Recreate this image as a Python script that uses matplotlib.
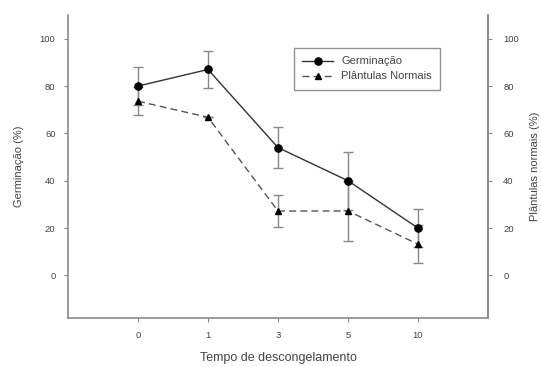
import matplotlib
matplotlib.use("Agg")
import matplotlib.pyplot as plt
from matplotlib.lines import Line2D
import numpy as np

plt.rcParams['font.family'] = ['Liberation Sans', 'DejaVu Sans']

categories = ["0", "1", "3", "5", "10"]
germinacao = [80, 87, 54, 40, 20]
germinacao_err = [8, 8, 8.5, 12.3, 8]
plantulas = [73.6, 66.8, 27.2, 27.2, 13.2]
plantulas_err = [6, 0, 6.7, 12.5, 8]
y_ticks = [0, 20, 40, 60, 80, 100]

fig = plt.figure(figsize=(5.41, 3.67), dpi=100)
ax = fig.add_axes([0.1257, 0.1335, 0.7763, 0.8255])
x = np.arange(len(categories))

spine_col = "#8a8a8a"
text_col = "#444444"

ax.errorbar(x, germinacao, yerr=germinacao_err, color="#333333", lw=1.0, ls="-",
            marker="o", ms=5.2, mfc="black", mec="black", ecolor="#888888",
            elinewidth=1.0, capsize=3.5, capthick=1.0, zorder=3)
ax.errorbar(x, plantulas, yerr=plantulas_err, color="#555555", lw=1.0, ls=(0, (5, 3)),
            marker="^", ms=4.5, mfc="black", mec="black", ecolor="#888888",
            elinewidth=1.0, capsize=3.5, capthick=1.0, zorder=3)

ax.set_xlim(-1, 5)
ax.set_ylim(-18, 110)
ax.set_xticks(x)
ax.set_xticklabels(categories)
ax.set_yticks(y_ticks)

for s in ["left", "bottom", "right"]:
    ax.spines[s].set_color(spine_col)
    ax.spines[s].set_linewidth(1.2)
ax.spines["top"].set_visible(False)

ax.tick_params(axis="both", labelsize=6.8, colors=spine_col, labelcolor=text_col,
               length=3, width=0.8, pad=6)

ax2 = ax.twinx()
ax2.set_ylim(ax.get_ylim())
ax2.set_yticks(y_ticks)
ax2.spines["top"].set_visible(False)
ax2.spines["left"].set_visible(False)
ax2.spines["bottom"].set_visible(False)
ax2.spines["right"].set_color(spine_col)
ax2.spines["right"].set_linewidth(1.2)
ax2.tick_params(axis="y", labelsize=6.8, colors=spine_col, labelcolor=text_col,
                length=3, width=0.8, pad=8)

ax.set_ylabel("Germinação (%)", fontsize=8, color=text_col, labelpad=11)
ax2.set_ylabel("Plântulas normais (%)", fontsize=8, color=text_col, labelpad=8)
ax.set_xlabel("Tempo de descongelamento", fontsize=9, color=text_col, labelpad=9)

handles = [
    Line2D([], [], color="#333333", lw=1.0, ls="-", marker="o", ms=5.2,
           mfc="black", mec="black"),
    Line2D([], [], color="#555555", lw=1.0, ls=(0, (5, 3)), marker="^", ms=4.5,
           mfc="black", mec="black"),
]
leg = ax.legend(handles, ["Germinação", "Plântulas Normais"], loc="upper left",
                bbox_to_anchor=(0.538, 0.891), fontsize=8,
                frameon=True, fancybox=False, edgecolor="#777777", handlelength=2.8,
                borderpad=0.75, labelspacing=0.45, borderaxespad=0, handletextpad=0.7)
leg.get_frame().set_linewidth(1.0)
for t in leg.get_texts():
    t.set_color(text_col)

fig.savefig("out.png", dpi=100)
